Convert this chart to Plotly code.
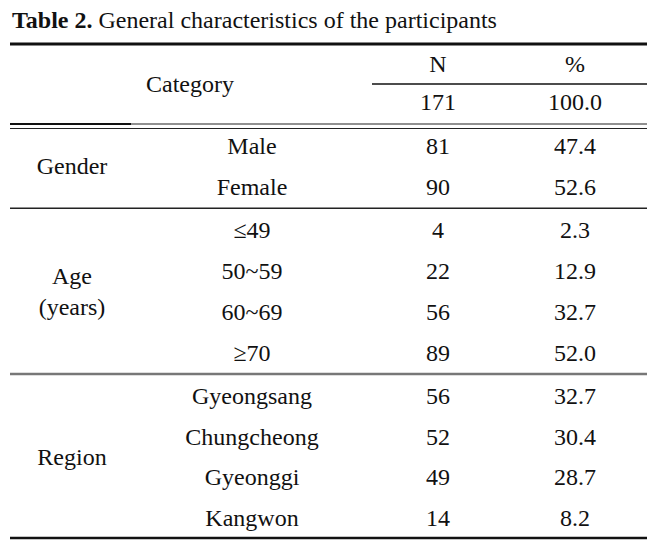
import plotly.graph_objects as go

# table data
groups = ["Gender", "Age<br>(years)", "Region"]
group_items = [
    ["Male", "Female"],
    ["\u226449", "50~59", "60~69", "\u226570"],
    ["Gyeongsang", "Chungcheong", "Gyeonggi", "Kangwon"],
]
counts = [[81, 90], [4, 22, 56, 89], [56, 52, 49, 14]]
percents = [["47.4", "52.6"], ["2.3", "12.9", "32.7", "52.0"], ["32.7", "30.4", "28.7", "8.2"]]
total_n = "171"
total_pct = "100.0"

FONT = '"Liberation Serif", "Times New Roman", serif'
FS = 24
X_GROUP, X_ITEM, X_N, X_PCT = 72, 252, 438, 575
LEFT, RIGHT = 10, 647
ROW_H = 40.8
FIRST_ROW = 148
GROUP_GAP = 2.5
PAGE_PAD = 8  # default body margin of the html page

fig = go.Figure()

item_y, item_txt = [], []
n_txt, p_txt = [], []
grp_y = []
sep_y = []
row = 0
for gi, items in enumerate(group_items):
    ys = []
    for k, it in enumerate(items):
        y = FIRST_ROW + row * ROW_H + gi * GROUP_GAP
        ys.append(y)
        item_y.append(y)
        item_txt.append(it)
        n_txt.append(str(counts[gi][k]))
        p_txt.append(percents[gi][k])
        row += 1
    grp_y.append((ys[0] + ys[-1]) / 2)
    sep_y.append(ys[-1] + ROW_H / 2 - 1)

fig.add_trace(go.Scatter(x=[X_ITEM] * len(item_y), y=item_y, text=item_txt, mode="text"))
fig.add_trace(go.Scatter(x=[X_N] * len(item_y), y=item_y, text=n_txt, mode="text"))
fig.add_trace(go.Scatter(x=[X_PCT] * len(item_y), y=item_y, text=p_txt, mode="text"))
fig.add_trace(go.Scatter(x=[X_GROUP] * len(groups), y=grp_y, text=groups, mode="text"))

# header
fig.add_trace(go.Scatter(
    x=[190, X_N, X_PCT, X_N, X_PCT],
    y=[86, 66, 66, 104, 104],
    text=["Category", "N", "%", total_n, total_pct],
    mode="text",
))
fig.update_traces(textfont={"family": FONT, "size": FS, "color": "#111"}, hoverinfo="skip")

fig.add_annotation(
    x=LEFT, y=20, xref="x", yref="y", xanchor="left", yanchor="middle",
    text="<b>Table 2.</b> General characteristics of the participants",
    showarrow=False, font={"family": FONT, "size": FS, "color": "#111"},
)

lines = [
    (LEFT, RIGHT, 44, 3, "#111"),
    (372, RIGHT, 84, 1.5, "#111"),
    (LEFT, RIGHT, 124, 1.2, "#222"),
    (LEFT, 131, 124, 2, "#111"),
    (LEFT, RIGHT, 128.5, 1.2, "#222"),
    (LEFT, RIGHT, sep_y[0], 1.5, "#222"),
    (LEFT, RIGHT, sep_y[1], 2.5, "#777"),
    (LEFT, RIGHT, 538, 2.5, "#111"),
]
for x0, x1, y, w, c in lines:
    fig.add_shape(type="line", x0=x0, x1=x1, y0=y, y1=y, xref="x", yref="y",
                  line={"color": c, "width": w})

fig.update_layout(
    width=666 - PAGE_PAD, height=542 - PAGE_PAD,
    margin={"l": 0, "r": 0, "t": 0, "b": 0},
    paper_bgcolor="white", plot_bgcolor="white",
    showlegend=False,
    xaxis={"range": [PAGE_PAD, 666], "visible": False, "fixedrange": True},
    yaxis={"range": [542, PAGE_PAD], "visible": False, "fixedrange": True},
)

fig.write_html("out.html")
